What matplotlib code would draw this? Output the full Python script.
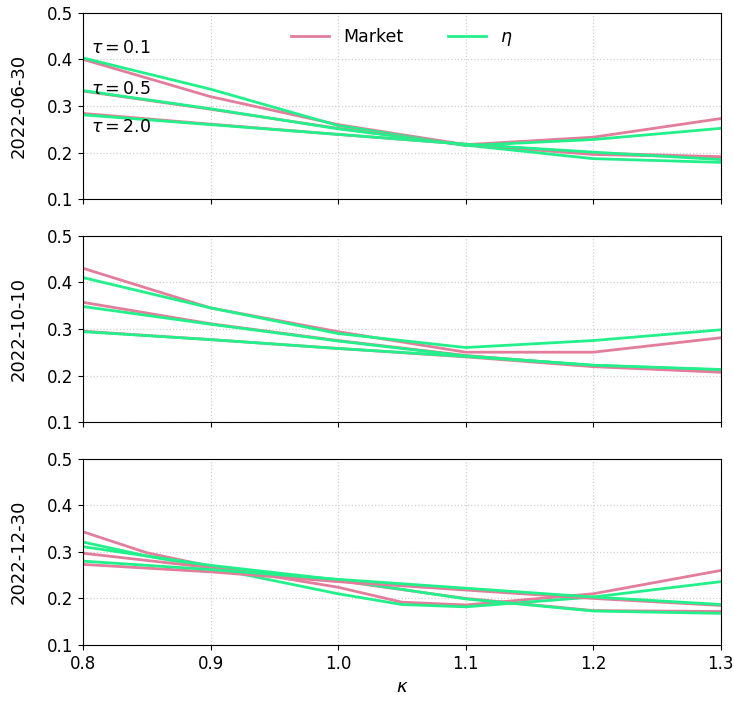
import numpy as np
import matplotlib
matplotlib.use("Agg")
import matplotlib.pyplot as plt

# strikes (moneyness) and maturities
kappa = [0.8, 0.9, 1.0, 1.1, 1.2, 1.3]
kappa_short = [0.8, 0.85, 0.9, 1.0, 1.05, 1.1, 1.2, 1.3]
taus = [0.1, 0.5, 2.0]
dates = ["2022-06-30", "2022-10-10", "2022-12-30"]

# implied vols, one list per maturity
mkt_0630 = [[0.400, 0.320, 0.260, 0.217, 0.233, 0.273],
            [0.332, 0.293, 0.252, 0.217, 0.196, 0.190],
            [0.284, 0.261, 0.239, 0.218, 0.199, 0.191]]
eta_0630 = [[0.403, 0.336, 0.258, 0.215, 0.228, 0.252],
            [0.333, 0.294, 0.251, 0.216, 0.187, 0.179],
            [0.281, 0.260, 0.239, 0.218, 0.201, 0.185]]

mkt_1010 = [[0.430, 0.345, 0.294, 0.250, 0.250, 0.281],
            [0.357, 0.311, 0.275, 0.243, 0.221, 0.208],
            [0.295, 0.277, 0.258, 0.240, 0.219, 0.207]]
eta_1010 = [[0.410, 0.345, 0.290, 0.260, 0.275, 0.298],
            [0.348, 0.310, 0.274, 0.242, 0.222, 0.212],
            [0.294, 0.277, 0.258, 0.241, 0.222, 0.213]]

mkt_1230 = [[0.343, 0.298, 0.269, 0.224, 0.192, 0.186, 0.210, 0.260],
            [0.297, 0.266, 0.238, 0.200, 0.174, 0.172],
            [0.273, 0.257, 0.236, 0.218, 0.200, 0.185]]
eta_1230 = [[0.321, 0.291, 0.266, 0.210, 0.187, 0.182, 0.203, 0.236],
            [0.311, 0.271, 0.240, 0.199, 0.173, 0.168],
            [0.280, 0.262, 0.241, 0.222, 0.203, 0.187]]

mkt_all = [mkt_0630, mkt_1010, mkt_1230]
eta_all = [eta_0630, eta_1010, eta_1230]

# label positions for the tau annotations (top panel)
tau_label_y = [0.425, 0.336, 0.254]

c_mkt = "#e27d9c"
c_eta = "#22f08a"

fig, axes = plt.subplots(3, 1, figsize=(7.34, 7.05), dpi=100, sharex=True)
plt.subplots_adjust(left=0.113, right=0.982, top=0.982, bottom=0.085, hspace=0.195)

for k, ax in enumerate(axes):
    for j in range(len(taus)):
        m = mkt_all[k][j]
        e = eta_all[k][j]
        xm = kappa if len(m) == len(kappa) else kappa_short
        xe = kappa if len(e) == len(kappa) else kappa_short
        ax.plot(xm, m, color=c_mkt, lw=2, label="Market" if j == 0 else None)
        ax.plot(xe, e, color=c_eta, lw=2, label=r"$\eta$" if j == 0 else None)
    ax.set_xlim(0.8, 1.3)
    ax.set_ylim(0.1, 0.5)
    ax.set_yticks([0.1, 0.2, 0.3, 0.4, 0.5])
    ax.grid(True, linestyle=":", color="#d0d0d0", linewidth=0.9)
    ax.set_ylabel(dates[k], fontsize=13)
    ax.yaxis.set_label_coords(-0.086, 0.5)
    ax.tick_params(labelsize=12)

for j, t in enumerate(taus):
    axes[0].text(0.806, tau_label_y[j], r"$\tau = %.1f$" % t, fontsize=12.5, va="center", ha="left")

axes[0].legend(loc="upper center", bbox_to_anchor=(0.5, 1.0), ncol=2, frameon=False,
               fontsize=12.5, handlelength=2.2, columnspacing=2.6)
axes[2].set_xticks([0.8, 0.9, 1.0, 1.1, 1.2, 1.3])
axes[2].set_xlabel(r"$\kappa$", fontsize=13)

plt.savefig("out.png", dpi=100)
